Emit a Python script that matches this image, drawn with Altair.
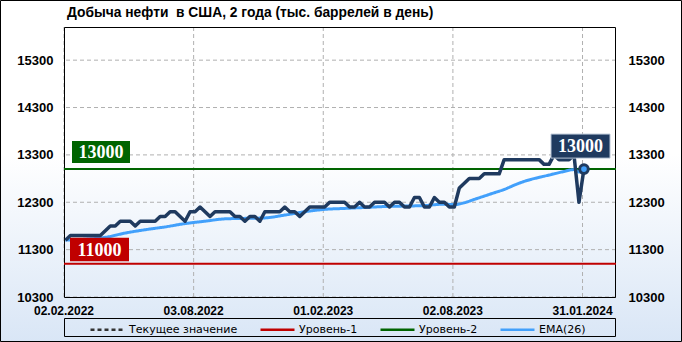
import altair as alt
import pandas as pd

# ---------------- data ----------------
TITLE = "Добыча нефти\u00a0 в США, 2 года (тыс. баррелей в день)"

FIRST_WEEK = "2022-02-04"          # weekly observations, one per Friday
PRODUCTION = [
    11500, 11600, 11600, 11600, 11600, 11600, 11600, 11600, 11700, 11800,
    11800, 11900, 11900, 11900, 11800, 11900, 11900, 11900, 11900, 12000,
    12000, 12100, 12100, 12000, 11900, 12100, 12100, 12200, 12100, 12000,
    12100, 12100, 12100, 12100, 12000, 12000, 11900, 12000, 12000, 11900,
    12100, 12100, 12100, 12100, 12200, 12100, 12100, 12000, 12100, 12200,
    12200, 12200, 12200, 12300, 12300, 12300, 12300, 12200, 12200, 12300,
    12200, 12200, 12300, 12300, 12300, 12200, 12300, 12300, 12200, 12200,
    12400, 12400, 12200, 12200, 12400, 12300, 12300, 12200, 12200, 12600,
    12700, 12800, 12800, 12800, 12900, 12900, 12900, 12900, 13200, 13200,
    13200, 13200, 13200, 13200, 13200, 13200, 13100, 13100, 13300, 13200,
    13200, 13200, 13300, 12300, 13000,
]

EMA_DATES = [
    "2022-02-04", "2022-03-04", "2022-04-01", "2022-04-29", "2022-05-27",
    "2022-06-24", "2022-07-22", "2022-08-19", "2022-09-16", "2022-10-14",
    "2022-11-11", "2022-12-09", "2023-01-06", "2023-02-03", "2023-03-03",
    "2023-03-31", "2023-04-28", "2023-05-26", "2023-06-23", "2023-07-21",
    "2023-08-04", "2023-08-18", "2023-09-01", "2023-09-15", "2023-09-29",
    "2023-10-13", "2023-10-27", "2023-11-10", "2023-11-24", "2023-12-08",
    "2023-12-22", "2024-01-05", "2024-01-19", "2024-01-26", "2024-02-02",
]
EMA_VALUES = [
    11500, 11520, 11560, 11650, 11720,
    11780, 11850, 11900, 11950, 11960,
    11970, 12030, 12100, 12150, 12170,
    12190, 12210, 12220, 12230, 12260,
    12250, 12290, 12360, 12430, 12500,
    12570, 12660, 12740, 12800, 12850,
    12900, 12950, 12990, 12940, 12945,
]

SERIES_NAMES = ["Текущее значение", "Уровень-1", "Уровень-2", "EMA(26)"]
CURRENT_VALUE = 13000
LEVEL_1 = 11000
LEVEL_2 = 13000

Y_TICKS = [10300, 11300, 12300, 13300, 14300, 15300]
Y_DOMAIN = [10300, 16000]
X_TICKS = ["2022-02-02", "2022-08-03", "2023-02-01", "2023-08-02", "2024-01-31"]
X_DOMAIN = ["2022-02-02", "2024-03-18"]

# ---------------- styles / layout ----------------
W, H = 552, 270
PAD = {"left": 64, "top": 27, "right": 66, "bottom": 45}
NAVY = "#1f3a5f"
BLUE = "#42a0fb"
RED = "#c00000"
GREEN = "#006400"
DASHED = "#333333"
GRID = "#b0b0b0"
SANS = "Liberation Sans"
SERIF = "Liberation Serif"


def dt(s):
    y, m, d = (int(p) for p in s.split("-"))
    return alt.DateTime(year=y, month=m, date=d, utc=True)


weeks = pd.date_range(FIRST_WEEK, periods=len(PRODUCTION), freq="7D")
prod_df = pd.DataFrame({"date": weeks.strftime("%Y-%m-%d"), "value": PRODUCTION})
last_df = prod_df.tail(1)
ema_df = pd.DataFrame({"date": EMA_DATES, "value": EMA_VALUES, "name": SERIES_NAMES[3]})
levels_df = pd.DataFrame({"name": SERIES_NAMES[:3],
                          "value": [CURRENT_VALUE, LEVEL_1, LEVEL_2]})
ygrid_df = pd.DataFrame({"tick": Y_TICKS})
xgrid_df = pd.DataFrame({"date": X_TICKS,
                         "label": pd.to_datetime(X_TICKS).strftime("%d.%m.%Y")})
one = pd.DataFrame({"k": [0]})

X_SCALE = alt.Scale(type="utc", domain=[dt(s) for s in X_DOMAIN], nice=False)
Y_SCALE = alt.Scale(domain=Y_DOMAIN, nice=False, zero=False)
X_ENC = alt.X("date:T", scale=X_SCALE, axis=None)


def y_axis(orient, pad):
    return alt.Axis(orient=orient, values=Y_TICKS, format="d", title=None,
                    grid=False, ticks=False, domain=False, labelFont=SANS,
                    labelFontSize=13, labelFontWeight="bold", labelColor="black",
                    labelPadding=pad, zindex=2)


legend = alt.Legend(orient="none", legendX=25, legendY=284, direction="horizontal",
                    columns=4, columnPadding=17, title=None, symbolType="stroke",
                    symbolSize=1156, symbolStrokeWidth=2.5, labelOffset=3,
                    labelFont="DejaVu Sans", labelFontSize=11, labelColor="black",
                    padding=0, zindex=2)
COLOR = alt.Color("name:N", scale=alt.Scale(domain=SERIES_NAMES,
                                            range=[DASHED, RED, GREEN, BLUE]),
                  legend=legend)
DASH = alt.StrokeDash("name:N", scale=alt.Scale(domain=SERIES_NAMES,
                                                range=[[4, 3], [1, 0], [1, 0], [1, 0]]),
                      legend=legend)

# ---------------- decoration ----------------
gradient = alt.Chart(one).mark_rect(
    fill=alt.LinearGradient(gradient="linear", x1=0, y1=0, x2=0, y2=1,
                            stops=[alt.GradientStop(offset=0, color="#ffffff"),
                                   alt.GradientStop(offset=0.45, color="#ffffff"),
                                   alt.GradientStop(offset=1, color="#d9e6f6")])
).encode(x=alt.value(-PAD["left"]), x2=alt.value(W + PAD["right"]),
         y=alt.value(-PAD["top"]), y2=alt.value(H + PAD["bottom"]))

outer = alt.Chart(one).mark_rect(fillOpacity=0, stroke="black", strokeWidth=1).encode(
    x=alt.value(-PAD["left"] + 0.5), x2=alt.value(W + PAD["right"] - 0.5),
    y=alt.value(-PAD["top"] + 0.5), y2=alt.value(H + PAD["bottom"] - 0.5))

title = alt.Chart(one).mark_text(text=TITLE, font=SANS, fontSize=13.8, fontWeight="bold",
                                 align="left", baseline="alphabetic", color="black"
                                 ).encode(x=alt.value(3), y=alt.value(-9.7))

ygrid = alt.Chart(ygrid_df).mark_rule(color=GRID, strokeDash=[4, 3], strokeWidth=1).encode(
    y=alt.Y("tick:Q", scale=Y_SCALE, axis=None))
xgrid = alt.Chart(xgrid_df).mark_rule(color=GRID, strokeDash=[4, 3], strokeWidth=1).encode(
    x=X_ENC, y=alt.value(0), y2=alt.value(H))
xlabels = alt.Chart(xgrid_df).mark_text(font=SANS, fontSize=12, fontWeight="bold",
                                        color="black", align="center",
                                        baseline="middle").encode(
    x=X_ENC, y=alt.value(H + 14), text="label:N")

frame = alt.Chart(one).mark_rect(fillOpacity=0, stroke="black", strokeWidth=1).encode(
    x=alt.value(0.5), x2=alt.value(W - 0.5), y=alt.value(0.5), y2=alt.value(H + 0.5))

legend_box = alt.Chart(one).mark_rect(fillOpacity=0, stroke="black", strokeWidth=1).encode(
    x=alt.value(0.5), x2=alt.value(W - 0.5), y=alt.value(291.5), y2=alt.value(309.5))

# ---------------- data layers ----------------
levels = alt.Chart(levels_df).mark_rule(strokeWidth=2).encode(
    y=alt.Y("value:Q", scale=Y_SCALE, axis=None), color=COLOR, strokeDash=DASH)

ema = alt.Chart(ema_df).mark_line(strokeWidth=3, interpolate="monotone").encode(
    x=X_ENC, y=alt.Y("value:Q", scale=Y_SCALE, axis=y_axis("right", 12)),
    color=COLOR, strokeDash=DASH)

line = alt.Chart(prod_df).mark_line(color=NAVY, strokeWidth=3.5, strokeJoin="round").encode(
    x=X_ENC, y=alt.Y("value:Q", scale=Y_SCALE, axis=y_axis("left", 11)))

marker = alt.Chart(last_df).mark_point(shape="circle", filled=True, fill=BLUE, stroke=NAVY,
                                       strokeWidth=3, size=75, opacity=1).encode(
    x=X_ENC, y=alt.Y("value:Q", scale=Y_SCALE, axis=None))


def label_box(value, x0, x1, top, bottom, fill, extra=None):
    kw = dict(fill=fill, yOffset=top, y2Offset=bottom)
    if extra:
        kw.update(extra)
    box = alt.Chart(one).mark_rect(**kw).encode(
        x=alt.value(x0), x2=alt.value(x1),
        y=alt.YDatum(value, scale=Y_SCALE, axis=None), y2=alt.Y2Datum(value))
    txt = alt.Chart(one).mark_text(text=f"{value}", font=SERIF, fontSize=18,
                                   fontWeight="bold", color="white", align="center",
                                   baseline="middle", dy=(top + bottom) / 2 + 1).encode(
        x=alt.value((x0 + x1) / 2), y=alt.YDatum(value, scale=Y_SCALE, axis=None))
    return [box, txt]


labels = (label_box(LEVEL_2, 8, 66, -28, -6, GREEN)
          + label_box(LEVEL_1, 6, 65, -26, -2.5, RED)
          + label_box(CURRENT_VALUE, 487, 546, -35, -11, NAVY,
                      {"stroke": "#b8c4d6", "strokeWidth": 1}))

chart = alt.layer(
    gradient, outer, title, ygrid, xgrid, xlabels, frame, legend_box,
    levels, ema, line, marker, *labels
).resolve_axis(y="independent").properties(
    width=W, height=H, padding=PAD, autosize=alt.AutoSizeParams(type="none"),
    background="white"
).configure_view(stroke=None)

chart.save("out.html", embed_options={"renderer": "svg", "actions": False})
